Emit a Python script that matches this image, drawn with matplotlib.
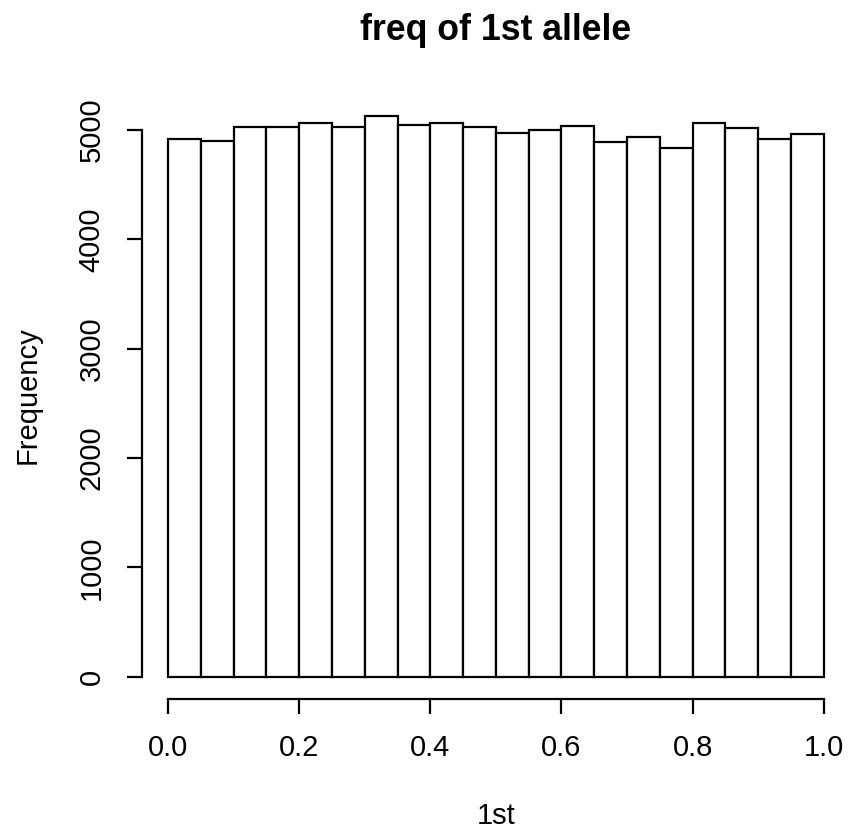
import numpy as np
import matplotlib
matplotlib.use("Agg")
import matplotlib.pyplot as plt

# histogram of allele frequencies, 20 bins over [0, 1]
bin_edges = [round(0.05 * i, 2) for i in range(21)]
counts = [4915, 4903, 5031, 5031, 5062, 5031, 5128, 5049, 5062, 5031,
          4970, 5000, 5034, 4888, 4934, 4839, 5062, 5016, 4918, 4967]
x_ticks = [0.0, 0.2, 0.4, 0.6, 0.8, 1.0]
x_tick_labels = ["0.0", "0.2", "0.4", "0.6", "0.8", "1.0"]
y_ticks = [0, 1000, 2000, 3000, 4000, 5000]

plt.rcParams['font.family'] = ['Liberation Sans', 'DejaVu Sans']

W, H = 849, 832
fig = plt.figure(figsize=(W / 100, H / 100), dpi=100)
ax = fig.add_axes([141.8 / W, (H - 699.1) / H, (850 - 141.8) / W, (699.1 - 93.6) / H])

edges = np.array(bin_edges)
ax.bar(edges[:-1], counts, width=np.diff(edges), align='edge',
       color='white', edgecolor='black', linewidth=1.6)

ymax = max(counts)
ax.set_xlim(-0.04, 1.04)
ax.set_ylim(-0.04 * ymax, 1.04 * ymax)

for s in ['top', 'right']:
    ax.spines[s].set_visible(False)
ax.spines['bottom'].set_bounds(0, 1)
ax.spines['left'].set_bounds(0, 5000)
for s in ['bottom', 'left']:
    ax.spines[s].set_linewidth(1.6)

ax.set_xticks(x_ticks)
ax.set_xticklabels(x_tick_labels)
ax.set_yticks(y_ticks)
ax.set_yticklabels([str(v) for v in y_ticks], rotation=90, va='center')
ax.tick_params(axis='both', length=11, width=1.6, labelsize=21, colors='black')
ax.tick_params(axis='x', pad=14)
ax.tick_params(axis='y', pad=15)

fig.text(0.5 * (141.8 + 850) / W, 1 - 30 / H, "freq of 1st allele",
         ha='center', va='center', fontsize=25.7, fontweight='bold')
fig.text(496 / W, 1 - 816 / H, "1st", ha='center', va='center', fontsize=21)
fig.text(28 / W, 1 - 395 / H, "Frequency", ha='center', va='center',
         rotation=90, fontsize=21)

fig.savefig("out.png", dpi=100)
